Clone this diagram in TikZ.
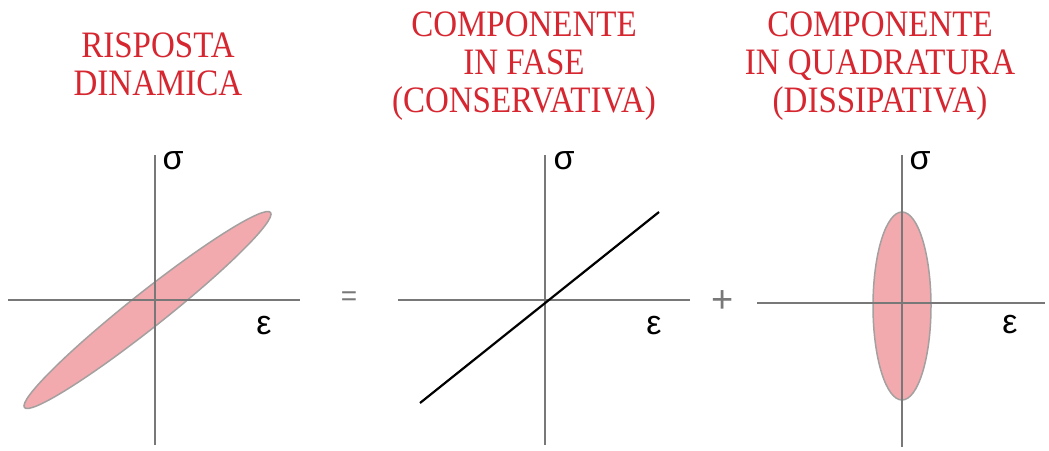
\documentclass[tikz,border=0pt]{standalone}
\usepackage{fontspec}
\setmainfont{Liberation Serif}
\newfontfamily\greekfont{Liberation Sans}
\definecolor{titred}{RGB}{214,38,48}
\definecolor{axgray}{RGB}{120,120,120}
\definecolor{edgegray}{RGB}{165,160,160}
\definecolor{pinkfill}{RGB}{242,170,175}
\newcommand{\tall}[1]{\scalebox{1}[1.13]{#1}}
\tikzset{
  title/.style={text=titred, font=\fontsize{33}{38}\selectfont, anchor=base, inner sep=0pt},
  axis/.style={draw=axgray, line width=1.3pt},
  lbl/.style={font=\greekfont\fontsize{34}{34}\selectfont, inner sep=0pt},
  op/.style={text=axgray, inner sep=0pt},
  loop/.style={fill=pinkfill, draw=edgegray, line width=1.5pt},
}
\begin{document}
\begin{tikzpicture}[x=1pt,y=-1pt]
\useasboundingbox[fill=white] (0,0) rectangle (1049,450);
% titles
\node[title] (t1a) at (158,57) {\tall{RISPOSTA}};
\node[title] (t1b) at (158,95) {\tall{DINAMICA}};
\node[title] (t2a) at (524,36) {\tall{COMPONENTE}};
\node[title] (t2b) at (524,74) {\tall{IN FASE}};
\node[title] (t2c) at (524,112) {\tall{(CONSERVATIVA)}};
\node[title] (t3a) at (880,36) {\tall{COMPONENTE}};
\node[title] (t3b) at (880,74) {\tall{IN QUADRATURA}};
\node[title] (t3c) at (880,112) {\tall{(DISSIPATIVA)}};
% panel 1
\coordinate (o1) at (155,300);
\draw[loop] (147.5,310) ellipse [x radius=157, y radius=17.5, rotate=38.4];
\coordinate (h1l) at (8,300); \coordinate (h1r) at (300,300);
\coordinate (v1t) at (155,155); \coordinate (v1b) at (155,445);
\draw[axis] (h1l) -- (h1r);
\draw[axis] (v1t) -- (v1b);
\node[lbl] (s1) at (173,161) {σ};
\node[lbl] (e1) at (264,326) {ε};
\node[op, font=\greekfont\fontsize{28}{28}\selectfont] (eq) at (349,299) {=};
% panel 2
\coordinate (h2l) at (398,300); \coordinate (h2r) at (690,300);
\coordinate (v2t) at (545,155); \coordinate (v2b) at (545,445);
\draw[axis] (h2l) -- (h2r);
\draw[axis] (v2t) -- (v2b);
\coordinate (l2a) at (420,403); \coordinate (l2b) at (659,212);
\draw[line width=2.2pt, black] (l2a) -- (l2b);
\node[lbl] (s2) at (564,161) {σ};
\node[lbl] (e2) at (654,326) {ε};
\node[op, font=\greekfont\fontsize{38}{38}\selectfont] (pl) at (723,302) {+};
% panel 3
\draw[loop] (902,306) ellipse [x radius=29, y radius=94];
\coordinate (h3l) at (757,303); \coordinate (h3r) at (1045,303);
\coordinate (v3t) at (902,155); \coordinate (v3b) at (902,447);
\draw[axis] (h3l) -- (h3r);
\draw[axis] (v3t) -- (v3b);
\node[lbl] (s3) at (920,161) {σ};
\node[lbl] (e3) at (1010,325) {ε};
\end{tikzpicture}
\end{document}
